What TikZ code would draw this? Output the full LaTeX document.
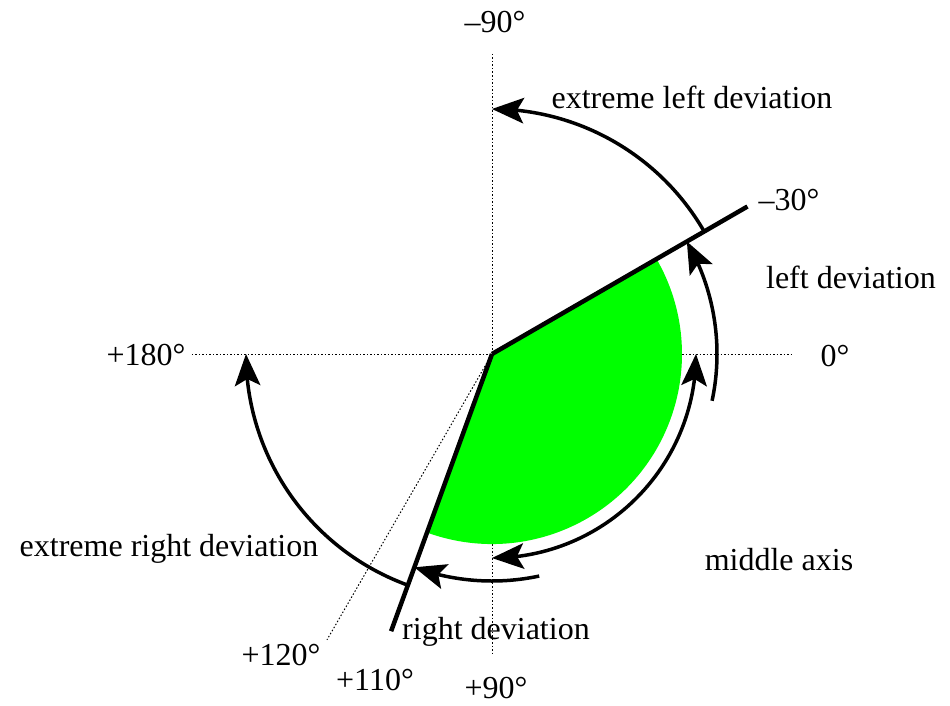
\documentclass[tikz,border=0pt]{standalone}
\usepackage{fontspec}
\setmainfont{Liberation Serif}
\usetikzlibrary{arrows.meta,bending}
\begin{document}
\begin{tikzpicture}[x=1pt,y=1pt,
 axisline/.style={line width=1pt, dash pattern=on 1.5pt off 2pt},
 bar/.style={line width=4.5pt},
 arcline/.style={line width=3.5pt},
 tipend/.style={-{Stealth[length=32pt,width=26pt,inset=7pt,line width=0pt,flex]}},
 tipboth/.style={{Stealth[length=32pt,width=26pt,inset=7pt,line width=0pt,flex]}-{Stealth[length=32pt,width=26pt,inset=7pt,line width=0pt,flex]}},
 lbl/.style={font=\fontsize{32}{38}\selectfont, inner sep=0pt}]
\useasboundingbox (-492,-351) rectangle (458,354);
\coordinate (O) at (0,0);
% axes
\coordinate (ax90m) at (0,300);
\coordinate (ax90p) at (0,-300);
\coordinate (ax0) at (300,0);
\coordinate (ax180) at (-300,0);
\coordinate (ax120) at (-120:330);
\draw[axisline] (ax90m) -- (ax90p);
\draw[axisline] (ax180) -- (ax0);
\draw[axisline] (O) -- (ax120);
% green sector
\fill[green] (O) -- (-110:190) arc[start angle=-110,end angle=30,radius=190] -- cycle;
% bars
\coordinate (b30) at (30:295);
\coordinate (b110) at (-110:295);
\draw[bar] (O) -- (b30);
\draw[bar] (O) -- (b110);
% arcs
\coordinate (elS) at (30:245);
\draw[arcline,tipend] (elS) arc[start angle=30,end angle=90,radius=245];
\coordinate (erS) at (-110:246);
\draw[arcline,tipend] (erS) arc[start angle=250,end angle=180,radius=246];
\coordinate (ldS) at (-12:225);
\draw[arcline,tipend] (ldS) arc[start angle=-12,end angle=30,radius=225];
\coordinate (maS) at (0:204);
\draw[arcline,tipboth] (maS) arc[start angle=0,end angle=-90,radius=204];
\coordinate (rdS) at (-78:227);
\draw[arcline,tipend] (rdS) arc[start angle=-78,end angle=-110,radius=227];
% labels
\node[lbl] (lm90) at (3,332) {–90°};
\node[lbl] (lel) at (200,257) {extreme left deviation};
\node[lbl] (lm30) at (297,154) {–30°};
\node[lbl] (lld) at (359,77) {left deviation};
\node[lbl] (l0) at (343,-2) {0°};
\node[lbl] (l180) at (-346,-1) {+180°};
\node[lbl] (ler) at (-323,-195) {extreme right deviation};
\node[lbl] (lma) at (287,-206) {middle axis};
\node[lbl] (lrd) at (4,-278) {right deviation};
\node[lbl] (l120) at (-211,-301) {+120°};
\node[lbl] (l110) at (-117,-326) {+110°};
\node[lbl] (l90) at (4,-334) {+90°};
\end{tikzpicture}
\end{document}
